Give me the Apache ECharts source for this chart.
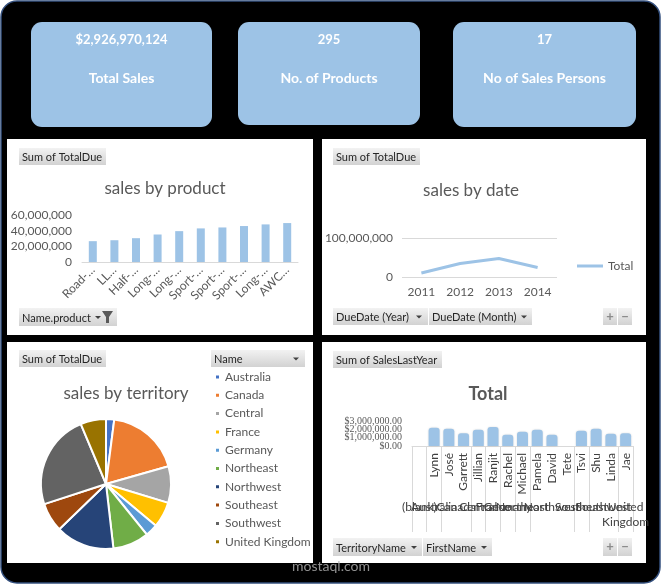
<!DOCTYPE html>
<html>
<head>
<meta charset="utf-8">
<script src="https://cdn.jsdelivr.net/npm/echarts@6/dist/echarts.min.js"></script>
<style>
html, body { margin: 0; padding: 0; background: #fff; }
#main { width: 662px; height: 585px; }
</style>
</head>
<body>
<div id="main"></div>
<script>
// KPI cards
const kpiValues = ['$2,926,970,124', '295', '17'];
const kpiLabels = ['Total Sales', 'No. of Products', 'No of Sales Persons'];

// sales by product
const productNames = ['Road-…', 'LL…', 'Half-…', 'Long-…', 'Long-…', 'Sport-…', 'Sport-…', 'Sport-…', 'Long-…', 'AWC…'];
const productSales = [26600000, 27800000, 30400000, 35100000, 39400000, 42900000, 44100000, 45900000, 48000000, 49700000];

// sales by date
const years = ['2011', '2012', '2013', '2014'];
const yearSales = [10300000, 34600000, 47500000, 24300000];

// sales by territory
const territories = ['Australia', 'Canada', 'Central', 'France', 'Germany', 'Northeast', 'Northwest', 'Southeast', 'Southwest', 'United Kingdom'];
const territorySales = [2500000, 22900000, 11200000, 7900000, 3800000, 11100000, 18000000, 8900000, 29200000, 7800000];
const territoryColors = ['#4472C4', '#ED7D31', '#A5A5A5', '#FFC000', '#5B9BD5', '#70AD47', '#264478', '#9E480E', '#636363', '#997300'];

// sales last year per sales person
const repNames = ['', 'Lynn', 'José', 'Garrett', 'Jillian', 'Ranjit', 'Rachel', 'Michael', 'Pamela', 'David', 'Tete', 'Tsvi', 'Shu', 'Linda', 'Jae'];
const repTerritories = ['(blank)', 'Australia', 'Canada', 'Canada', 'Central', 'France', 'Germany', 'Northeast', 'Northwest', 'Northwest', 'Northwest', 'Southeast', 'Southwest', 'Southwest', 'United Kingdom'];
const repSales = [0, 2180000, 2060000, 1540000, 1940000, 2290000, 1340000, 1700000, 1940000, 1340000, 0, 1820000, 2060000, 1460000, 1540000];
const repTicks = [0, 1000000, 2000000, 3000000];

// outer (territory) level of the axis, on a half-column grid
let groups = [];
repTerritories.forEach(function (t, i) {
    let last = groups[groups.length - 1];
    if (last && last.name === t) last.end = i + 1;
    else groups.push({name: t, start: i, end: i + 1});
});
const outerLabels = [];
for (let i = 0; i <= repNames.length * 2; i++) outerLabels.push('');
groups.forEach(g => { outerLabels[g.start + g.end] = g.name; });
const outerBounds = new Set([0].concat(groups.map(g => g.end * 2)));

const GRAY = '#595959';
const FONT = 'Lato';
const BLUE = '#9DC3E6';

const btnFill = {type: 'linear', x: 0, y: 0, x2: 0, y2: 1,
    colorStops: [{offset: 0, color: '#F2F2F2'}, {offset: 1, color: '#D2D2D2'}]};

function button(x, y, w, h, label, arrowX) {
    let els = [{type: 'rect', shape: {x: x, y: y, width: w, height: h}, style: {fill: btnFill}, z: 5}];
    if (label) {
        els.push({type: 'text', x: x + 3, y: y + h / 2 + 1, z: 6,
            style: {text: label, fill: '#262626', font: '11px ' + FONT, verticalAlign: 'middle'}});
    }
    if (arrowX) {
        els.push({type: 'polygon', z: 6, shape: {points: [[arrowX - 3, y + h / 2 - 1], [arrowX + 3, y + h / 2 - 1], [arrowX, y + h / 2 + 2]]},
            style: {fill: '#404040'}});
    }
    return els;
}

function plusMinus(x, y, h) {
    return [
        {type: 'rect', z: 5, shape: {x: x, y: y, width: 14, height: h}, style: {fill: btnFill}},
        {type: 'rect', z: 5, shape: {x: x + 15, y: y, width: 14, height: h}, style: {fill: btnFill}},
        {type: 'text', z: 6, x: x + 7, y: y + h / 2, style: {text: '+', fill: '#8C8C8C', font: 'bold 13px ' + FONT, align: 'center', verticalAlign: 'middle'}},
        {type: 'text', z: 6, x: x + 22, y: y + h / 2, style: {text: '−', fill: '#8C8C8C', font: 'bold 13px ' + FONT, align: 'center', verticalAlign: 'middle'}}
    ];
}

let graphics = [
    // outer frame
    {type: 'rect', z: -3, shape: {x: 1, y: 1, width: 659, height: 582, r: 16}, style: {fill: '#000', stroke: '#34507E', lineWidth: 1.5}},
    // panels
    {type: 'rect', z: -2, shape: {x: 7, y: 139, width: 306, height: 196}, style: {fill: '#fff'}},
    {type: 'rect', z: -2, shape: {x: 322, y: 139, width: 324, height: 196}, style: {fill: '#fff'}},
    {type: 'rect', z: -2, shape: {x: 7, y: 342, width: 306, height: 221}, style: {fill: '#fff'}},
    {type: 'rect', z: -2, shape: {x: 322, y: 342, width: 324, height: 221}, style: {fill: '#fff'}}
];

// KPI cards
const cards = [{x: 31, w: 181, h: 105}, {x: 238, w: 182, h: 103}, {x: 453, w: 183, h: 105}];
cards.forEach(function (c, i) {
    let cx = c.x + c.w / 2;
    graphics.push({type: 'rect', z: -1, shape: {x: c.x, y: 22, width: c.w, height: c.h, r: 11}, style: {fill: BLUE}});
    graphics.push({type: 'text', z: 6, x: cx, y: 40, style: {text: kpiValues[i], fill: '#fff', font: 'bold 13px ' + FONT, align: 'center', verticalAlign: 'middle'}});
    graphics.push({type: 'text', z: 6, x: cx, y: 78, style: {text: kpiLabels[i], fill: '#fff', font: 'bold 14px ' + FONT, align: 'center', verticalAlign: 'middle'}});
});

graphics = graphics.concat(
    button(19, 148, 87, 17, 'Sum of TotalDue'),
    button(19, 308, 98, 18, 'Name.product', 98),
    [{type: 'polygon', z: 6, shape: {points: [[102, 311], [113, 311], [109, 317], [109, 323], [106, 323], [106, 317]]}, style: {fill: '#595959'}}],
    button(333, 148, 87, 17, 'Sum of TotalDue'),
    button(333, 308, 95, 17, 'DueDate (Year)', 419),
    button(429, 308, 103, 17, 'DueDate (Month)', 524),
    plusMinus(603, 308, 17),
    button(19, 350, 87, 17, 'Sum of TotalDue'),
    button(211, 350, 94, 17, 'Name', 296),
    button(333, 351, 109, 17, 'Sum of SalesLastYear'),
    button(333, 538, 89, 18, 'TerritoryName', 414),
    button(423, 538, 69, 18, 'FirstName', 484),
    plusMinus(603, 538, 18),
    [{type: 'text', z: 7, x: 331, y: 566, style: {text: 'mostaql.com', fill: 'rgba(170,170,170,0.85)', font: '14px ' + FONT, align: 'center', verticalAlign: 'middle'}}]
);

const moneyLabel = {
    margin: 10, fontSize: 10, lineHeight: 10, color: GRAY, fontFamily: 'Liberation Sans Narrow',
    formatter: v => '$' + v.toLocaleString('en-US', {minimumFractionDigits: 2})
};

let option = {
    backgroundColor: '#fff',
    animation: false,
    textStyle: {fontFamily: FONT},
    graphic: {elements: graphics},
    title: [
        {text: 'sales by product', left: 160, top: 175, textAlign: 'center', textStyle: {fontSize: 17, fontWeight: 'normal', color: GRAY, fontFamily: FONT}},
        {text: 'sales by date', left: 466, top: 177, textAlign: 'center', textStyle: {fontSize: 17, fontWeight: 'normal', color: GRAY, fontFamily: FONT}},
        {text: 'sales by territory', left: 121, top: 380, textAlign: 'center', textStyle: {fontSize: 17, fontWeight: 'normal', color: GRAY, fontFamily: FONT}},
        {text: 'Total', left: 483, top: 380, textAlign: 'center', textStyle: {fontSize: 18, fontWeight: 'bold', color: GRAY, fontFamily: FONT}}
    ],
    legend: [
        {
            data: territories, orient: 'vertical', left: 214, top: 371, padding: 0,
            icon: 'rect', itemWidth: 5, itemHeight: 5, itemGap: 6.3, selectedMode: false,
            textStyle: {fontSize: 12, color: GRAY, lineHeight: 12, fontFamily: FONT}
        },
        {
            data: ['Total'], left: 577, top: 260, padding: 0, selectedMode: false,
            icon: 'rect', itemWidth: 26, itemHeight: 3, itemGap: 2,
            textStyle: {fontSize: 12, color: GRAY, fontFamily: FONT}
        }
    ],
    grid: [
        {left: 82, right: 364, top: 215, bottom: 323},
        {left: 402, right: 105, top: 238, bottom: 308},
        {left: 412, right: 29, top: 421, bottom: 139}
    ],
    xAxis: [
        {
            type: 'category', gridIndex: 0, data: productNames,
            axisLine: {lineStyle: {color: '#D9D9D9'}},
            axisTick: {length: 4, lineStyle: {color: '#D9D9D9'}},
            axisLabel: {interval: 0, rotate: 45, margin: 6, fontSize: 12, color: GRAY, fontFamily: FONT}
        },
        {
            type: 'category', gridIndex: 1, data: years,
            axisLine: {show: false}, axisTick: {show: false},
            axisLabel: {margin: 9, fontSize: 12, color: GRAY, fontFamily: FONT}
        },
        {
            type: 'category', gridIndex: 2, data: repNames,
            axisLine: {lineStyle: {color: '#D9D9D9'}},
            axisTick: {length: 46, interval: 0, lineStyle: {color: '#D9D9D9'}},
            axisLabel: {interval: 0, rotate: 90, margin: 7, fontSize: 12, color: '#404040', fontFamily: FONT}
        },
        {
            type: 'category', gridIndex: 2, position: 'bottom', boundaryGap: false,
            data: outerLabels.map((_, i) => String(i)),
            axisLine: {show: false}, splitLine: {show: false},
            axisTick: {show: true, length: 86, interval: i => outerBounds.has(i), lineStyle: {color: '#D9D9D9'}},
            axisLabel: {
                interval: 0, margin: 54, fontSize: 12, color: '#404040', fontFamily: FONT, lineHeight: 15,
                formatter: (v, i) => outerLabels[i].replace(' ', '\n')
            }
        }
    ],
    yAxis: [
        {
            type: 'value', gridIndex: 0, min: 0, max: 60000000, interval: 20000000,
            splitLine: {show: false}, axisLine: {show: false}, axisTick: {show: false},
            axisLabel: {margin: 10, fontSize: 12, color: GRAY, fontFamily: FONT,
                formatter: v => v.toLocaleString('en-US')}
        },
        {
            type: 'value', gridIndex: 1, min: 0, max: 100000000, interval: 100000000,
            splitLine: {lineStyle: {color: '#D9D9D9'}}, axisLine: {show: false}, axisTick: {show: false},
            axisLabel: {margin: 9, fontSize: 12, color: GRAY, fontFamily: FONT,
                formatter: v => v.toLocaleString('en-US')}
        },
        {
            type: 'value', gridIndex: 2, min: 0, max: 3000000, position: 'left',
            splitLine: {show: false}, axisLine: {show: false}, axisTick: {show: false},
            axisLabel: Object.assign({customValues: repTicks.filter((_, i) => i % 2 === 0)}, moneyLabel)
        },
        {
            type: 'value', gridIndex: 2, min: 0, max: 3000000, position: 'left', offset: 0,
            splitLine: {show: false}, axisLine: {show: false}, axisTick: {show: false},
            axisLabel: Object.assign({customValues: repTicks.filter((_, i) => i % 2 === 1)}, moneyLabel)
        }
    ],
    series: [
        {
            name: 'Sum of TotalDue', type: 'bar', xAxisIndex: 0, yAxisIndex: 0,
            data: productSales, barWidth: 8, itemStyle: {color: BLUE}
        },
        {
            name: 'Total', type: 'line', xAxisIndex: 1, yAxisIndex: 1,
            data: yearSales, showSymbol: false, symbol: 'none',
            lineStyle: {width: 3, color: BLUE}, itemStyle: {color: BLUE}
        },
        {
            name: 'Sum of TotalDue', type: 'pie', center: [106, 484], radius: 65,
            label: {show: false}, labelLine: {show: false},
            itemStyle: {borderColor: '#fff', borderWidth: 2},
            data: territories.map((t, i) => ({name: t, value: territorySales[i], itemStyle: {color: territoryColors[i]}}))
        },
        {
            name: 'Sum of SalesLastYear', type: 'bar', xAxisIndex: 2, yAxisIndex: 2,
            data: repSales, barWidth: 11,
            itemStyle: {color: BLUE, borderRadius: [3, 3, 0, 0], shadowBlur: 2, shadowColor: 'rgba(0,0,0,0.15)'}
        }
    ]
};

let myChart = echarts.init(document.getElementById('main'));
myChart.setOption(option);
</script>
</body>
</html>
